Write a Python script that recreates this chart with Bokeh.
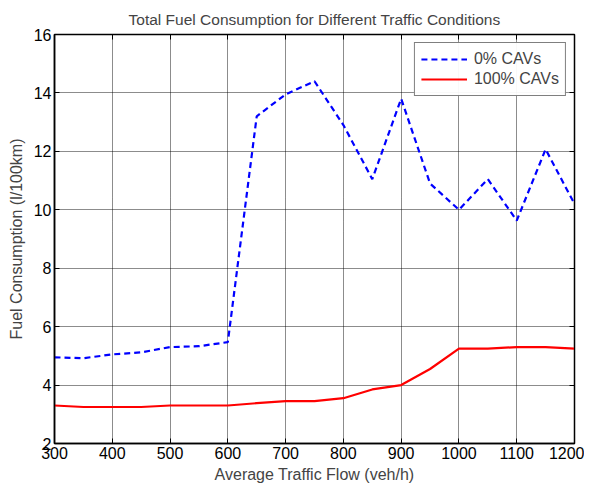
from bokeh.plotting import figure
from bokeh.models import Range1d, FixedTicker, LinearAxis, Legend, LegendItem
from bokeh.embed import file_html
from bokeh.resources import INLINE

flow = [300, 350, 400, 450, 500, 550, 600, 650, 700, 750, 800, 850, 900, 950, 1000, 1050, 1100, 1150, 1200]
cav0 = [4.95, 4.92, 5.05, 5.12, 5.3, 5.33, 5.47, 13.2, 13.95, 14.4, 12.9, 11.05, 13.8, 10.9, 10.0, 11.05, 9.63, 12.07, 10.2]
cav100 = [3.3, 3.25, 3.25, 3.25, 3.3, 3.3, 3.3, 3.38, 3.45, 3.45, 3.55, 3.85, 4.0, 4.55, 5.25, 5.25, 5.3, 5.3, 5.25]
x_ticks = [300, 400, 500, 600, 700, 800, 900, 1000, 1100, 1200]
y_ticks = [2, 4, 6, 8, 10, 12, 14, 16]

FONT = "Liberation Sans"

p = figure(width=584, height=485, output_backend="svg", toolbar_location=None,
           x_range=Range1d(300, 1200), y_range=Range1d(2, 16),
           min_border_left=54, min_border_right=10, min_border_top=34, min_border_bottom=33,
           title="Total Fuel Consumption for Different Traffic Conditions")
p.title.align = "center"
p.title.text_font = FONT
p.title.text_font_size = "15.5px"
p.title.text_font_style = "normal"
p.title.standoff = 14

p.outline_line_color = "black"
p.outline_line_width = 1.5
p.background_fill_color = "white"
p.border_fill_color = "white"

for ax in (p.xaxis[0], p.yaxis[0]):
    ax.major_tick_in = 5
    ax.major_tick_out = 0
    ax.minor_tick_in = 0
    ax.minor_tick_out = 0
    ax.major_label_text_font = FONT
    ax.major_label_text_font_size = "16px"
    ax.major_label_text_color = "black"
    ax.axis_label_text_font = FONT
    ax.axis_label_text_font_size = "16px"
    ax.axis_label_text_font_style = "normal"
    ax.axis_line_color = "black"
    ax.axis_line_width = 1.5
    ax.major_tick_line_color = "black"

p.xaxis[0].ticker = FixedTicker(ticks=x_ticks)
p.yaxis[0].ticker = FixedTicker(ticks=y_ticks)
p.xaxis[0].axis_label = "Average Traffic Flow (veh/h)"
p.yaxis[0].axis_label = "Fuel Consumption (l/100km)"
p.xaxis[0].major_label_standoff = 3
p.yaxis[0].major_label_standoff = 3
p.xaxis[0].axis_label_standoff = 4
p.yaxis[0].axis_label_standoff = 6

# ticks on top and right (box style)
for loc, tk in (("right", y_ticks), ("above", x_ticks)):
    ax = LinearAxis(ticker=FixedTicker(ticks=tk),
                    major_label_overrides={t: "" for t in tk},
                    major_tick_in=5, major_tick_out=0, minor_tick_in=0, minor_tick_out=0,
                    major_label_standoff=0,
                    axis_line_color="black", major_tick_line_color="black")
    p.add_layout(ax, loc)

p.xgrid.ticker = FixedTicker(ticks=x_ticks)
p.ygrid.ticker = FixedTicker(ticks=y_ticks)
for g in (p.xgrid[0], p.ygrid[0]):
    g.grid_line_color = "black"
    g.grid_line_dash = "1 1"
    g.grid_line_alpha = 0.9
    g.grid_line_width = 1

r0 = p.line(flow, cav0, line_color="#0000ff", line_width=2.2, line_dash="6 4")
r1 = p.line(flow, cav100, line_color="#ff0000", line_width=2.2)

legend = Legend(items=[LegendItem(label="0% CAVs", renderers=[r0]),
                       LegendItem(label="100% CAVs", renderers=[r1])],
                location="top_right")
legend.label_text_font = FONT
legend.label_text_font_size = "16px"
legend.border_line_color = "black"
legend.border_line_width = 1.2
legend.glyph_width = 46
legend.spacing = 0
legend.padding = 6
legend.margin = 8
legend.label_standoff = 7
p.add_layout(legend)

open("out.html", "w").write(file_html(p, INLINE))
